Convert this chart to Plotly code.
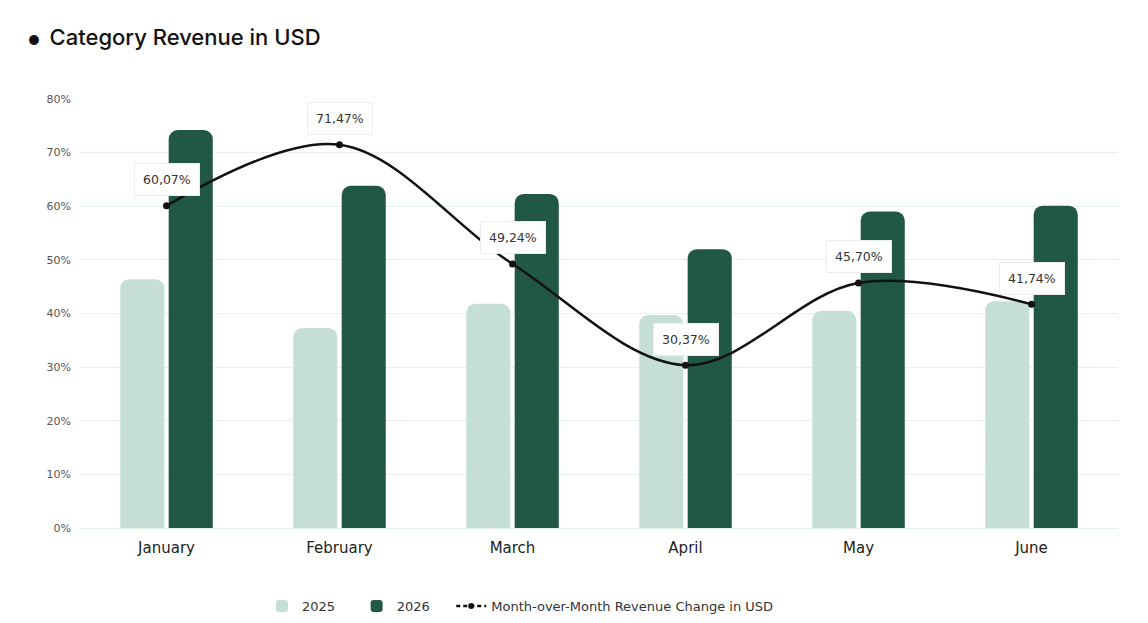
import plotly.graph_objects as go

months = ["January", "February", "March", "April", "May", "June"]
rev_2025 = [46.4, 37.3, 41.8, 39.7, 40.5, 42.3]
rev_2026 = [74.2, 63.8, 62.3, 52.0, 59.0, 60.1]
mom_change = [60.07, 71.47, 49.24, 30.37, 45.70, 41.74]
line_name = "Month-over-Month Revenue Change in USD"

light_green = "#c5dfd6"
dark_green = "#215745"
grid_color = "#e6f2ea"
label_font = "DejaVu Sans"
pad = "\u00a0" * 4  # extra room between legend items

fig = go.Figure()

fig.add_trace(go.Bar(
    x=months, y=rev_2025, name="2025" + pad,
    marker=dict(color=light_green, cornerradius=9, line=dict(width=0)),
    hoverinfo="skip",
))
fig.add_trace(go.Bar(
    x=months, y=rev_2026, name="2026" + pad,
    marker=dict(color=dark_green, cornerradius=9, line=dict(width=0)),
    hoverinfo="skip",
))
fig.add_trace(go.Scatter(
    x=months, y=mom_change, name=line_name, showlegend=False,
    mode="lines+markers",
    line=dict(color="#111111", width=2.5, shape="spline", smoothing=1.0),
    marker=dict(color="#111111", size=7),
))
# legend entry only, drawn dashed like the reference legend key
fig.add_trace(go.Scatter(
    x=[None], y=[None], name=line_name, mode="lines+markers",
    line=dict(color="#111111", width=2.5, dash="4px,3px"),
    marker=dict(color="#111111", size=6),
))

# value labels in white boxes above the line points
for m, v in zip(months, mom_change):
    fig.add_annotation(
        x=m, y=v, text=f"{v:.2f}%".replace(".", ","),
        showarrow=False, yshift=26,
        bgcolor="white", bordercolor="#ededed", borderwidth=1, borderpad=8,
        font=dict(family=label_font, size=12.5, color="#333333"),
    )

fig.update_layout(
    width=1148, height=623,
    margin=dict(l=72, r=38, t=91, b=103),
    paper_bgcolor="white", plot_bgcolor="white",
    title=dict(
        text="<span style='font-size:13px'>\u25cf</span>\u2009 Category Revenue in USD",
        xref="container", x=20 / 1148, xanchor="left",
        yref="container", y=1 - 29 / 623, yanchor="middle",
        font=dict(family="Inter", size=22, color="#111111", weight=500),
    ),
    barmode="group", bargap=0.44, bargroupgap=0.09,
    font=dict(family=label_font, color="#333333"),
    legend=dict(
        orientation="h",
        xref="container", x=254 / 1148, xanchor="left",
        yref="container", y=1 - 598 / 623, yanchor="middle",
        font=dict(family=label_font, size=13, color="#333333"),
        itemwidth=30, tracegroupgap=0,
    ),
    showlegend=True,
)
fig.update_xaxes(
    showgrid=False, showline=False, ticks="",
    tickfont=dict(family=label_font, size=15, color="#222222"),
    ticklabelstandoff=9,
)
fig.update_yaxes(
    range=[0, 80], dtick=10, ticksuffix="%",
    showgrid=True, gridcolor=grid_color, gridwidth=1,
    zeroline=True, zerolinecolor=grid_color, zerolinewidth=1,
    tickfont=dict(family=label_font, size=11, color="#555555"),
    ticklabelstandoff=8,
)

fig.write_html("out.html")
